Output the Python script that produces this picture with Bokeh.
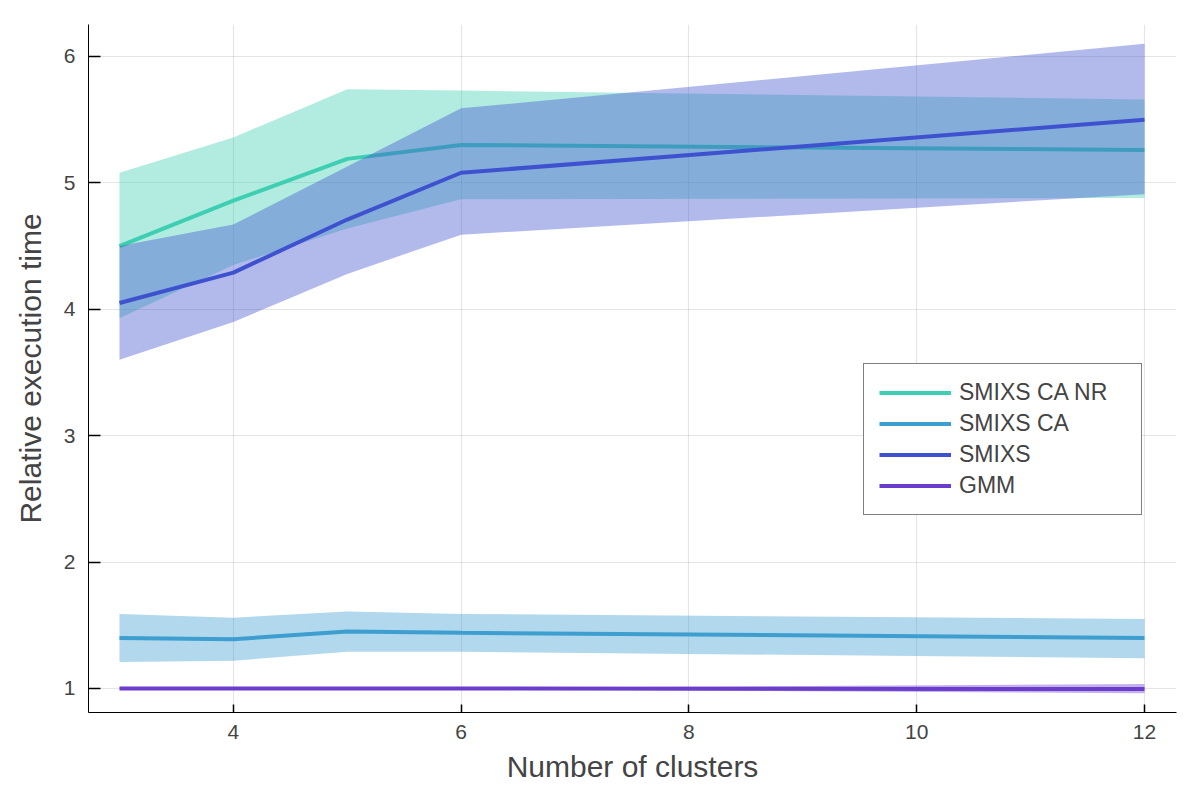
from bokeh.plotting import figure
from bokeh.models import Range1d, Legend, LegendItem, FixedTicker
from bokeh.embed import file_html
from bokeh.resources import INLINE

clusters = [3, 4, 5, 6, 12]

names = ["SMIXS CA NR", "SMIXS CA", "SMIXS", "GMM"]
colors = ["#3ecfb2", "#3d9ecf", "#3e52d0", "#6a3dcc"]

ca_nr_mean = [4.50, 4.86, 5.19, 5.30, 5.26]
ca_nr_low = [3.93, 4.35, 4.64, 4.87, 4.88]
ca_nr_high = [5.08, 5.36, 5.74, 5.73, 5.66]

ca_mean = [1.40, 1.39, 1.45, 1.44, 1.40]
ca_low = [1.21, 1.22, 1.29, 1.29, 1.24]
ca_high = [1.59, 1.56, 1.61, 1.59, 1.55]

smixs_mean = [4.05, 4.29, 4.71, 5.08, 5.50]
smixs_low = [3.60, 3.90, 4.28, 4.59, 4.91]
smixs_high = [4.50, 4.67, 5.13, 5.59, 6.10]

gmm_mean = [1.0, 1.0, 1.0, 1.0, 0.996]
gmm_low = [0.998, 0.998, 0.998, 0.996, 0.962]
gmm_high = [1.002, 1.002, 1.002, 1.004, 1.035]

x_ticks = [4, 6, 8, 10, 12]
y_ticks = [1, 2, 3, 4, 5, 6]

FONT = "Liberation Sans"
TXT = "#444444"

p = figure(width=1192, height=792, output_backend="svg", toolbar_location=None,
           x_range=Range1d(2.728, 12.281), y_range=Range1d(0.810, 6.253),
           min_border_left=88, min_border_right=16, min_border_top=24, min_border_bottom=80)
p.outline_line_color = None
p.background_fill_color = "white"

series = [
    (ca_nr_mean, ca_nr_low, ca_nr_high),
    (ca_mean, ca_low, ca_high),
    (smixs_mean, smixs_low, smixs_high),
    (gmm_mean, gmm_low, gmm_high),
]
items = []
for (m, lo, hi), name, c in zip(series, names, colors):
    p.varea(x=clusters, y1=lo, y2=hi, fill_color=c, fill_alpha=0.4)
    r = p.line(x=clusters, y=m, line_color=c, line_width=4)
    items.append(LegendItem(label=name, renderers=[r]))

for ax, ticks in ((p.xaxis[0], x_ticks), (p.yaxis[0], y_ticks)):
    ax.ticker = FixedTicker(ticks=ticks)
    ax.major_tick_in = 8
    ax.major_tick_out = 0
    ax.minor_tick_in = 0
    ax.minor_tick_out = 0
    ax.major_tick_line_width = 1.5
    ax.axis_line_color = "black"
    ax.major_tick_line_color = "black"
    ax.major_label_text_font = FONT
    ax.major_label_text_font_size = "21px"
    ax.major_label_text_color = TXT
    ax.axis_label_text_font = FONT
    ax.axis_label_text_font_size = "30px"
    ax.axis_label_text_font_style = "normal"
    ax.axis_label_text_color = TXT
p.yaxis[0].major_tick_in = 12
p.xaxis.axis_label = "Number of clusters"
p.yaxis.axis_label = "Relative execution time"
p.xaxis.major_label_standoff = 12
p.yaxis.major_label_standoff = 13
p.xaxis.axis_label_standoff = 8
p.yaxis.axis_label_standoff = 14

p.grid.grid_line_color = "black"
p.grid.grid_line_alpha = 0.1
p.grid.grid_line_width = 1.2
p.xgrid.ticker = FixedTicker(ticks=x_ticks)
p.ygrid.ticker = FixedTicker(ticks=y_ticks)

legend = Legend(items=items, location=(775, 197))
legend.border_line_color = "black"
legend.border_line_width = 1.2
legend.background_fill_alpha = 1.0
legend.label_text_font = FONT
legend.label_text_font_size = "23px"
legend.label_text_color = TXT
legend.glyph_width = 72
legend.glyph_height = 27
legend.label_height = 27
legend.spacing = 4
legend.padding = 15
legend.margin = 0
legend.label_standoff = 8
legend.label_width = 167
p.add_layout(legend, "center")

open("out.html", "w").write(file_html(p, INLINE))
